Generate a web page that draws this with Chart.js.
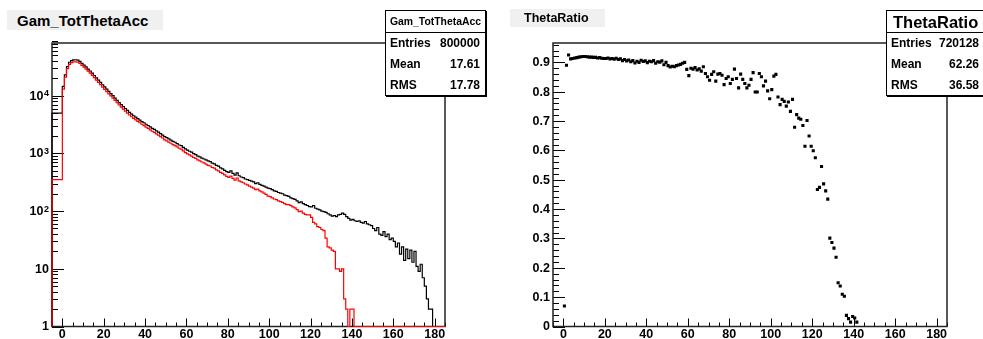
<!DOCTYPE html>
<html>
<head>
<meta charset="utf-8">
<title>Gam_TotThetaAcc / ThetaRatio</title>
<script src="https://cdn.jsdelivr.net/npm/chart.js@4"></script>
<style>
  body { margin: 0; width: 983px; height: 339px; overflow: hidden; background: #fff; position: relative;
         font-family: 'Liberation Sans', Arial, sans-serif; font-weight: bold; color: #000; }
  .pad { position: absolute; top: 0; }
  .title { position: absolute; background: #f0f0f0; white-space: nowrap; box-sizing: border-box; }
  .stats { position: absolute; background: #fff; border: 1px solid #000; box-shadow: 1px 1px 0 #000;
           box-sizing: border-box; font-size: 12px; white-space: nowrap; }
  .stats .head { height: 22px; line-height: 22px; border-bottom: 1px solid #000; text-align: center; box-sizing: border-box; }
  .stats .row { display: flex; justify-content: space-between; height: 21px; line-height: 21px; padding: 0 5px 0 4px; }
</style>
</head>
<body>

<div class="pad" style="left:0"><canvas id="accChart" width="490" height="339"></canvas></div>
<div class="pad" style="left:490px"><canvas id="ratioChart" width="493" height="339"></canvas></div>

<div class="title" style="left:7px; top:10px; width:156px; height:20px; line-height:21px; font-size:15px; padding-left:10px;">Gam_TotThetaAcc</div>
<div class="title" style="left:510px; top:9px; width:95px; height:18px; line-height:18px; font-size:12.5px; padding-left:14px;">ThetaRatio</div>

<div class="stats" style="left:385px; top:10px; width:101px; height:86px;">
  <div class="head" style="font-size:10.4px;">Gam_TotThetaAcc</div>
  <div class="row"><span>Entries</span><span>800000</span></div>
  <div class="row"><span>Mean</span><span>17.61</span></div>
  <div class="row"><span>RMS</span><span>17.78</span></div>
</div>
<div class="stats" style="left:886px; top:10px; width:99px; height:86px;">
  <div class="head" style="font-size:16.5px; text-align:left; padding-left:6px;">ThetaRatio</div>
  <div class="row" style="padding-right:5px"><span>Entries</span><span>720128</span></div>
  <div class="row" style="padding-right:5px"><span>Mean</span><span>62.26</span></div>
  <div class="row" style="padding-right:5px"><span>RMS</span><span>36.58</span></div>
</div>

<script>
// histogram: 1 degree bins, bin i covers [i, i+1], i = 0..179
const accAll = [
  5000, 14500, 23000, 32000, 38000, 40700, 41800, 42000, 41300, 39500,
  36500, 34000, 31500, 29000, 26800, 24600, 22400, 20400, 18600, 17000,
  15500, 14200, 13000, 11900, 10900, 10000, 9100, 8300, 7600, 7000,
  6500, 6000, 5550, 5150, 4800, 4500, 4250, 4000, 3780, 3560,
  3400, 3200, 3050, 2880, 2720, 2600, 2450, 2330, 2200, 2080,
  1960, 1880, 1780, 1700, 1620, 1560, 1480, 1400, 1360, 1270,
  1200, 1140, 1090, 1050, 990, 950, 900, 870, 830, 800,
  775, 740, 720, 680, 660, 620, 600, 560, 540, 510,
  485, 470, 500, 450, 420, 460, 410, 390, 380, 360,
  350, 340, 330, 320, 300, 310, 290, 280, 270, 260,
  250, 245, 235, 225, 220, 210, 205, 200, 190, 185,
  180, 170, 165, 160, 150, 140, 145, 135, 130, 125,
  120, 118, 125, 112, 108, 105, 100, 98, 95, 90,
  86, 82, 84, 80, 86, 88, 92, 88, 80, 75,
  70, 72, 68, 66, 68, 64, 62, 66, 60, 58,
  56, 50, 46, 52, 40, 38, 44, 36, 40, 32,
  34, 30, 24, 28, 18, 24, 14, 22, 15, 21,
  13, 20, 11, 9, 12, 7, 5, 3, 2, 2
];
const accSel = [
  350, 13000, 21000, 29500, 35000, 37500, 38500, 38700, 38000, 36300,
  33600, 31300, 29000, 26700, 24600, 22600, 20600, 18700, 17100, 15600,
  14100, 12900, 11800, 10800, 9900, 9100, 8280, 7550, 6900, 6350,
  5850, 5400, 4990, 4630, 4320, 4050, 3820, 3600, 3400, 3200,
  3030, 2850, 2710, 2560, 2420, 2310, 2180, 2070, 1950, 1850,
  1720, 1650, 1570, 1500, 1420, 1370, 1300, 1230, 1190, 1110,
  1030, 980, 940, 900, 850, 820, 770, 745, 710, 685,
  650, 620, 605, 570, 555, 520, 500, 470, 450, 425,
  400, 385, 405, 370, 345, 375, 335, 320, 310, 295,
  285, 270, 260, 250, 235, 240, 225, 215, 205, 195,
  182, 178, 170, 162, 158, 150, 146, 142, 135, 130,
  130, 124, 118, 114, 106, 98, 100, 92, 88, 86,
  86, 78, 64, 60, 54, 52, 48, 46, 34, 24,
  23, 21, 20, 10, 10, 9, 10, 3, 2, 0,
  2, 2, 0, 0, 0, 0, 0, 0, 0, 0,
  0, 0, 0, 0, 0, 0, 0, 0, 0, 0,
  0, 0, 0, 0, 0, 0, 0, 0, 0, 0,
  0, 0, 0, 0, 0, 0, 0, 0, 0, 0
];
// ratio per bin, bins 0..141 (later bins are empty)
const thetaRatio = [
  0.07, 0.89, 0.925, 0.912, 0.913, 0.915, 0.916, 0.918, 0.919, 0.92,
  0.92, 0.919, 0.918, 0.918, 0.917, 0.917, 0.915, 0.916, 0.914, 0.913,
  0.913, 0.915, 0.912, 0.913, 0.911, 0.914, 0.91, 0.912, 0.906, 0.91,
  0.905, 0.908, 0.902, 0.906, 0.898, 0.904, 0.9, 0.907, 0.903, 0.905,
  0.899, 0.904, 0.902, 0.906, 0.897, 0.902, 0.901, 0.905, 0.892, 0.9,
  0.889, 0.884, 0.887, 0.885, 0.889, 0.891, 0.893, 0.897, 0.9, 0.876,
  0.855, 0.88, 0.877, 0.882, 0.874, 0.878, 0.87, 0.885, 0.862, 0.851,
  0.839, 0.859, 0.868, 0.836, 0.86, 0.862, 0.856, 0.824, 0.845, 0.851,
  0.828, 0.842, 0.877, 0.845, 0.813, 0.86, 0.842, 0.828, 0.813, 0.822,
  0.842, 0.865, 0.799, 0.799, 0.862, 0.851, 0.82, 0.836, 0.803, 0.776,
  0.807, 0.853, 0.859, 0.782, 0.756, 0.774, 0.767, 0.751, 0.765, 0.733,
  0.774, 0.679, 0.722, 0.71, 0.706, 0.685, 0.614, 0.702, 0.649, 0.614,
  0.599, 0.575, 0.467, 0.474, 0.545, 0.486, 0.462, 0.434, 0.301, 0.286,
  0.267, 0.236, 0.149, 0.138, 0.11, 0.103, 0.038, 0.027, 0.015, 0.034,
  0.029, 0.015
];
const xRange = [-5, 185];
const xMajor = [0, 20, 40, 60, 80, 100, 120, 140, 160, 180];
const logMajor = [1, 10, 100, 1000, 10000];
const logLabels = [['1', ''], ['10', ''], ['10', '2'], ['10', '3'], ['10', '4']];
const ratioMajor = [0, 0.1, 0.2, 0.3, 0.4, 0.5, 0.6, 0.7, 0.8, 0.9];
const ratioLabels = ['0', '0.1', '0.2', '0.3', '0.4', '0.5', '0.6', '0.7', '0.8', '0.9'];

const tickFont = "bold 12.5px 'Liberation Sans', Arial, sans-serif";

// histogram outline (zero bins sit on the axis floor)
function histPoints(vals) {
  const pts = [{ x: xRange[0], y: 1 }];
  vals.forEach((v, i) => pts.push({ x: i, y: Math.max(v, 1) }));
  pts.push({ x: vals.length, y: 1 });
  pts.push({ x: xRange[1], y: 1 });
  return pts;
}

// ROOT style frame with inward ticks
const rootFrame = {
  id: 'rootFrame',
  beforeDatasetsDraw(chart, args, o) {
    const { ctx, chartArea: a, scales: { x, y } } = chart;
    ctx.save();
    ctx.strokeStyle = '#000';
    ctx.lineWidth = 1;
    ctx.beginPath();
    for (let v = xRange[0]; v <= xRange[1]; v += 5) {
      const px = Math.round(x.getPixelForValue(v)) + 0.5;
      const len = xMajor.includes(v) ? 8 : 4;
      ctx.moveTo(px, a.bottom); ctx.lineTo(px, a.bottom - len);
    }
    o.yMinor.forEach(v => {
      const py = Math.round(y.getPixelForValue(v)) + 0.5;
      ctx.moveTo(a.left, py); ctx.lineTo(a.left + 6, py);
    });
    o.yMajor.forEach(v => {
      const py = Math.round(y.getPixelForValue(v)) + 0.5;
      ctx.moveTo(a.left, py); ctx.lineTo(a.left + 12, py);
    });
    ctx.stroke();

    ctx.lineWidth = 1.5;
    ctx.strokeStyle = '#222';
    ctx.strokeRect(a.left, a.top, a.right - a.left, a.bottom - a.top);

    ctx.fillStyle = '#000';
    ctx.font = tickFont;
    ctx.textAlign = 'center';
    ctx.textBaseline = 'alphabetic';
    xMajor.forEach(v => ctx.fillText(String(v), x.getPixelForValue(v), 338));

    ctx.textBaseline = 'middle';
    o.yMajor.forEach((v, i) => {
      const py = y.getPixelForValue(v);
      const [base, sup] = o.yLabel(i);
      ctx.font = tickFont;
      const bw = ctx.measureText(base).width;
      ctx.font = "bold 9px 'Liberation Sans', Arial, sans-serif";
      const sw = sup ? ctx.measureText(sup).width + 0.5 : 0;
      ctx.textAlign = 'right';
      ctx.font = tickFont;
      ctx.fillText(base, a.left - o.labelGap - sw, py + 0.5);
      if (sup) {
        ctx.font = "bold 9px 'Liberation Sans', Arial, sans-serif";
        ctx.textAlign = 'left';
        ctx.textBaseline = 'alphabetic';
        ctx.fillText(sup, a.left - o.labelGap - sw + 0.5, py + 0.5);
        ctx.textBaseline = 'middle';
      }
    });
    ctx.restore();
  }
};

const logMinor = [];
logMajor.forEach(d => { for (let k = 2; k <= 9; k++) logMinor.push(k * d); });
const ratioMinor = [];
for (let k = 0; k <= 48; k++) ratioMinor.push(k * 0.02);

const hiddenX = { type: 'linear', min: xRange[0], max: xRange[1], display: false };

new Chart(document.getElementById('accChart'), {
  type: 'line',
  data: {
    datasets: [
      { data: histPoints(accSel), borderColor: '#ff0000', borderWidth: 1.2, stepped: 'after',
        pointRadius: 0, fill: false, order: 0, clip: 3 },
      { data: histPoints(accAll), borderColor: '#000000', borderWidth: 1.2, stepped: 'after',
        pointRadius: 0, fill: false, order: 1, clip: 3 }
    ]
  },
  options: {
    responsive: false, animation: false, parsing: true,
    layout: { padding: { left: 52, right: 45, top: 43, bottom: 12.5 } },
    plugins: {
      legend: { display: false }, tooltip: { enabled: false },
      rootFrame: { yMajor: logMajor, yMinor: logMinor, yLabel: i => logLabels[i], labelGap: 3 }
    },
    scales: {
      x: hiddenX,
      y: { type: 'logarithmic', min: 1, max: 82000, display: false }
    }
  },
  plugins: [rootFrame]
});

new Chart(document.getElementById('ratioChart'), {
  type: 'scatter',
  data: {
    datasets: [{
      data: thetaRatio.map((v, i) => ({ x: i + 0.5, y: v })),
      pointStyle: 'rect', pointRadius: 2.2, borderWidth: 0, backgroundColor: '#000'
    }]
  },
  options: {
    responsive: false, animation: false,
    layout: { padding: { left: 63, right: 36, top: 43, bottom: 12.5 } },
    plugins: {
      legend: { display: false }, tooltip: { enabled: false },
      rootFrame: { yMajor: ratioMajor, yMinor: ratioMinor, yLabel: i => [ratioLabels[i], ''], labelGap: 3 }
    },
    scales: {
      x: hiddenX,
      y: { type: 'linear', min: 0, max: 0.966, display: false }
    }
  },
  plugins: [rootFrame]
});
</script>
</body>
</html>
